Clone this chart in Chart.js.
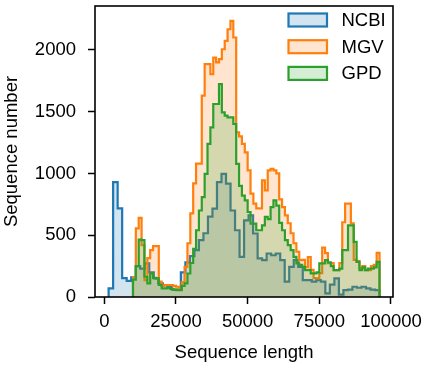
<!DOCTYPE html>
<html>
<head>
<meta charset="utf-8">
<script src="https://cdn.jsdelivr.net/npm/chart.js@4.4.1/dist/chart.umd.min.js"></script>
<style>
  html, body { margin: 0; padding: 0; background: #fff; }
  canvas { display: block; }
</style>
</head>
<body>
<canvas id="chart" width="426" height="369" style="width:426px;height:369px"></canvas>
<script>
// histogram bins (sequence length, bp)
const ncbiBinStart = 1500;
const ncbiBinWidth = 1575;
const viralBinStart = 10000;
const viralBinWidth = 1000;

// counts per bin
const ncbiCounts = [
  70, 930, 718, 153, 130, 160, 250, 230, 272, 200,
  150, 110, 97, 80, 60, 60, 200, 280, 330, 380,
  460, 516, 650, 715, 930, 997, 917, 700, 540, 325,
  620, 661, 514, 312, 298, 352, 338, 352, 298, 124,
  244, 298, 244, 137, 137, 124, 137, 124, 30, 100,
  150, 20, 56, 60, 83, 75, 83, 70, 60, 55
];
const mgvCounts = [
  160, 556, 640, 420, 137, 315, 380, 411, 411, 124,
  90, 97, 97, 97, 90, 83, 60, 120, 244, 435,
  677, 919, 1080, 1080, 1629, 1884, 1884, 1804, 1938, 1898,
  1925, 2005, 2073, 2167, 2234, 2100, 1333, 1300, 1239, 1170,
  1024, 836, 756, 717, 717, 944, 863, 1024, 1038, 1024,
  1000, 790, 728, 660, 597, 516, 435, 366, 298, 300,
  242, 323, 220, 153, 150, 193, 400, 355, 274, 274,
  218, 218, 274, 605, 755, 755, 597, 300, 290, 234,
  250, 218, 218, 250, 260, 357
];
const gpdCounts = [
  140, 250, 465, 460, 164, 110, 190, 155, 150, 97,
  70, 70, 75, 65, 60, 55, 55, 90, 110, 190,
  275, 390, 540, 700, 809, 997, 1239, 1373, 1562, 1562,
  1723, 1494, 1468, 1454, 1454, 1400, 1078, 900, 820, 782,
  688, 594, 594, 540, 540, 580, 648, 630, 728, 782,
  740, 600, 540, 460, 420, 379, 325, 272, 260, 245,
  218, 218, 191, 191, 200, 272, 272, 298, 280, 250,
  218, 218, 230, 379, 379, 580, 580, 446, 285, 218,
  240, 218, 230, 230, 240, 285
];

const seriesNames = ['NCBI', 'MGV', 'GPD'];
const xTicks = [0, 25000, 50000, 75000, 100000];
const yTicks = [0, 500, 1000, 1500, 2000];

const FONT = '"Liberation Sans", Arial, sans-serif';
const FONT_SIZE = 18.5;

// turn counts into a step outline: (e0,0), (e0,c0), (e1,c1) ... (en,0)
function toSteps(start, width, counts) {
  const pts = [{ x: start, y: 0 }];
  counts.forEach((c, i) => pts.push({ x: start + i * width, y: c }));
  pts.push({ x: start + counts.length * width, y: 0 });
  return pts;
}

const colors = [
  ['#1f77b4', 'rgba(31, 119, 180, 0.2)'],
  ['#ff7f0e', 'rgba(255, 127, 14, 0.2)'],
  ['#2ca02c', 'rgba(44, 160, 44, 0.2)']
];

const seriesData = [
  toSteps(ncbiBinStart, ncbiBinWidth, ncbiCounts),
  toSteps(viralBinStart, viralBinWidth, mgvCounts),
  toSteps(viralBinStart, viralBinWidth, gpdCounts)
];

const datasets = seriesNames.map((name, i) => ({
  label: name,
  data: seriesData[i],
  borderColor: colors[i][0],
  backgroundColor: colors[i][1],
  borderWidth: 2.2,
  pointRadius: 0,
  stepped: true,
  tension: 0,
  fill: 'origin',
  order: 3 - i // GPD on top, like matplotlib
}));

// spines drawn above the patches
const frame = {
  id: 'frame',
  afterDatasetsDraw(chart) {
    const { ctx, chartArea: a } = chart;
    ctx.save();
    ctx.strokeStyle = '#000';
    ctx.lineWidth = 1.6;
    ctx.strokeRect(a.left, a.top, a.right - a.left, a.bottom - a.top);
    ctx.restore();
  }
};

// matplotlib style legend in the upper right corner
const cornerLegend = {
  id: 'cornerLegend',
  afterDraw(chart) {
    const { ctx, chartArea: a } = chart;
    ctx.save();
    ctx.font = FONT_SIZE + 'px ' + FONT;
    ctx.textBaseline = 'middle';
    chart.data.datasets.forEach((ds, i) => {
      const cy = a.top + 14 + i * 26.7;
      const bx = a.right - 104.5;
      ctx.fillStyle = ds.backgroundColor;
      ctx.fillRect(bx, cy - 6.5, 38.5, 13);
      ctx.strokeStyle = ds.borderColor;
      ctx.lineWidth = 2.2;
      ctx.strokeRect(bx, cy - 6.5, 38.5, 13);
      ctx.fillStyle = '#000';
      ctx.fillText(ds.label, a.right - 51.5, cy + 1);
    });
    ctx.restore();
  }
};

function noPad(scale) {
  scale.paddingTop = 0;
  scale.paddingBottom = 0;
  scale.paddingLeft = 0;
  scale.paddingRight = 0;
}

new Chart(document.getElementById('chart'), {
  type: 'line',
  data: { datasets: datasets },
  options: {
    responsive: false,
    animation: false,
    devicePixelRatio: 1,
    layout: { padding: { left: 0, right: 33, top: 6, bottom: 0 } },
    plugins: {
      legend: { display: false },
      tooltip: { enabled: false }
    },
    scales: {
      x: {
        type: 'linear',
        min: -3250,
        max: 100700,
        afterBuildTicks(scale) {
          scale.ticks = xTicks.map(v => ({ value: v }));
        },
        afterFit(scale) {
          scale.height = 72;
          noPad(scale);
        },
        border: { display: false },
        grid: {
          display: true,
          drawOnChartArea: false,
          drawTicks: true,
          tickLength: 7,
          tickWidth: 1.5,
          tickColor: '#000'
        },
        ticks: {
          color: '#000',
          padding: 7,
          maxRotation: 0,
          font: { family: FONT, size: FONT_SIZE },
          callback: v => String(v)
        },
        title: {
          display: true,
          text: 'Sequence length',
          color: '#000',
          font: { family: FONT, size: FONT_SIZE },
          padding: { top: 0, bottom: 5 }
        }
      },
      y: {
        type: 'linear',
        min: 0,
        max: 2355,
        afterBuildTicks(scale) {
          scale.ticks = yTicks.map(v => ({ value: v }));
        },
        afterFit(scale) {
          scale.width = 95;
          noPad(scale);
        },
        border: { display: false },
        grid: {
          display: true,
          drawOnChartArea: false,
          drawTicks: true,
          tickLength: 7,
          tickWidth: 1.5,
          tickColor: '#000'
        },
        ticks: {
          color: '#000',
          padding: 12,
          font: { family: FONT, size: FONT_SIZE },
          callback: v => String(v)
        },
        title: {
          display: true,
          text: 'Sequence number',
          color: '#000',
          font: { family: FONT, size: FONT_SIZE },
          padding: { top: 1, bottom: 0 }
        }
      }
    }
  },
  plugins: [frame, cornerLegend]
});
</script>
</body>
</html>
